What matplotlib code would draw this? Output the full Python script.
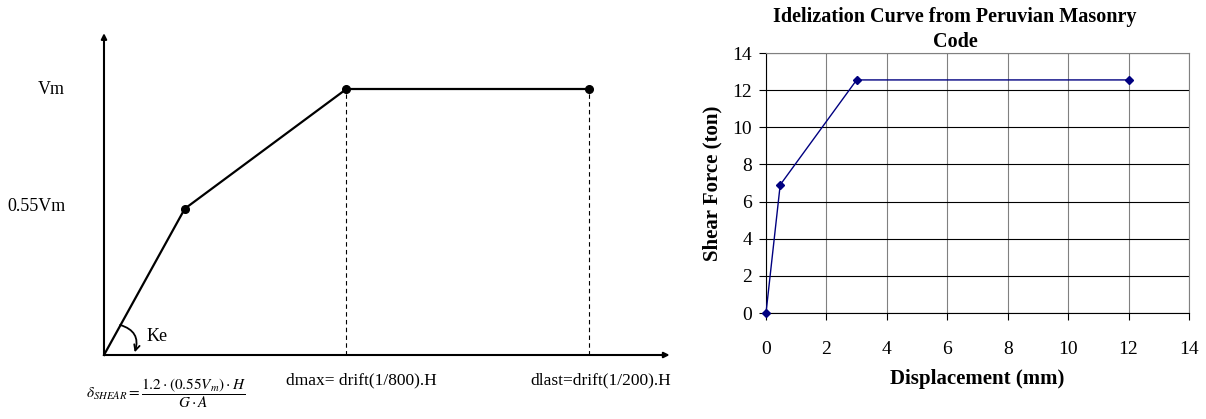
import numpy as np
import matplotlib.pyplot as plt

plt.rcParams['font.family'] = ['Liberation Serif', 'DejaVu Serif']
plt.rcParams['mathtext.fontset'] = 'stix'

# schematic (left) curve: displacement units, force as fraction of Vm
schem_x = [0, 1, 3, 6]
schem_y = [0, 0.55, 1.0, 1.0]

# idealization curve (right)
disp_mm = [0, 0.47, 3.0, 12.0]
shear_ton = [0, 6.9, 12.55, 12.55]
x_ticks = [0, 2, 4, 6, 8, 10, 12, 14]
y_ticks = [0, 2, 4, 6, 8, 10, 12, 14]

fig = plt.figure(figsize=(12.06, 4.19), dpi=100)

# ---- left: schematic ----
ax1 = fig.add_axes([0, 0, 700 / 1206, 1])
ax1.set_xlim(-1.287, 7.376)
ax1.set_ylim(-0.2406, 1.3346)
ax1.axis('off')

ax1.annotate('', xy=(0, 1.21), xytext=(0, 0),
             arrowprops=dict(arrowstyle='-|>', lw=1.5, color='black',
                             mutation_scale=8, shrinkA=0, shrinkB=0))
ax1.annotate('', xy=(7.0, 0), xytext=(0, 0),
             arrowprops=dict(arrowstyle='-|>', lw=1.5, color='black',
                             mutation_scale=8, shrinkA=0, shrinkB=0))

ax1.plot(schem_x, schem_y, color='black', lw=1.6)
ax1.plot(schem_x[1:], schem_y[1:], 'o', color='black', ms=5.5)
for xv, yv in zip(schem_x[2:], schem_y[2:]):
    ax1.plot([xv, xv], [0, yv], color='black', lw=0.8, ls=(0, (4, 3)))

ax1.annotate('', xy=(0.38, 0.01), xytext=(0.2, 0.113),
             arrowprops=dict(arrowstyle='->', lw=1.3, color='black',
                             connectionstyle='arc3,rad=-0.5',
                             shrinkA=0, shrinkB=0))
ax1.text(0.53, 0.07, 'Ke', fontsize=13, va='center', ha='left')

ax1.text(-0.48, 1.0, 'Vm', fontsize=13, va='center', ha='right')
ax1.text(-0.48, 0.56, '0.55Vm', fontsize=13, va='center', ha='right')
ax1.text(0.77, -0.143,
         r'$\delta_{SHEAR}=\dfrac{1.2\cdot(0.55V_m)\cdot H}{G\cdot A}$',
         fontsize=11, va='center', ha='center')
ax1.text(3.19, -0.094, 'dmax= drift(1/800).H', fontsize=12.5,
         va='center', ha='center')
ax1.text(6.15, -0.094, 'dlast=drift(1/200).H', fontsize=12.5,
         va='center', ha='center')

# ---- right: idealization curve ----
ax2 = fig.add_axes([766 / 1206, 106 / 419, 423 / 1206, 260 / 419])
ax2.plot(disp_mm, shear_ton, color='#000080', lw=1, marker='D', ms=4,
         clip_on=False, zorder=3)
ax2.set_xlim(0, 14)
ax2.set_ylim(0, 14)
ax2.set_xticks(x_ticks)
ax2.set_yticks(y_ticks)
ax2.yaxis.grid(True, color='black', lw=0.8)
ax2.xaxis.grid(True, color='#808080', lw=0.8)
ax2.set_axisbelow(True)
ax2.tick_params(axis='x', length=5, pad=15, labelsize=14)
ax2.tick_params(axis='y', length=5, pad=5, labelsize=14)
ax2.spines['top'].set_color('#808080')
ax2.spines['right'].set_color('#808080')
ax2.set_xlabel('Displacement (mm)', fontsize=15, fontweight='bold', labelpad=8)
ax2.set_ylabel('Shear Force (ton)', fontsize=15, fontweight='bold', labelpad=7)
ax2.set_title('Idelization Curve from Peruvian Masonry\nCode',
              fontsize=14.5, fontweight='bold', pad=4, linespacing=1.35,
              x=0.447)

fig.savefig('out.png', dpi=100)
